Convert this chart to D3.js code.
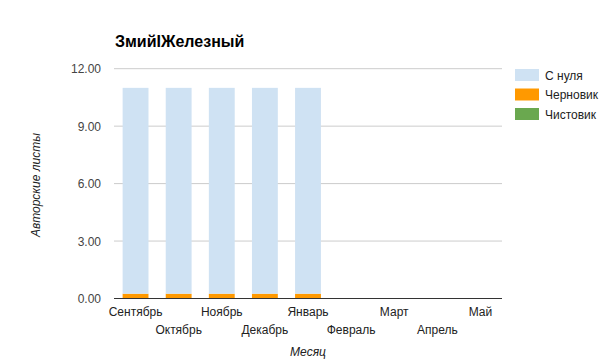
<!DOCTYPE html>
<html><head><meta charset="utf-8">
<script src="https://cdn.jsdelivr.net/npm/d3@7"></script>
<style>
body{margin:0;background:#fff;}
svg{display:block;font-family:Arial,"Liberation Sans",sans-serif;}
</style></head><body>
<svg id="c" width="605" height="362"></svg>
<script>
const title = "ЗмийIЖелезный";
const months = ["Сентябрь","Октябрь","Ноябрь","Декабрь","Январь","Февраль","Март","Апрель","Май"];
const seriesNames = ["С нуля","Черновик","Чистовик"];
const seriesColors = ["#cfe2f3","#ff9900","#6aa84f"];
const fromScratch = [10.75,10.75,10.75,10.75,10.75,0,0,0,0];
const draft = [0.25,0.25,0.25,0.25,0.25,0,0,0,0];
const clean = [0,0,0,0,0,0,0,0,0];
const yTicks = [0,3,6,9,12];
const yLabel = "Авторские листы";
const xLabel = "Месяц";

const svg = d3.select("#c");
const L=114, R=502, T=68.7, B=298.5;
const x = d3.scaleBand().domain(months).range([L,R]).paddingInner(0.4).paddingOuter(0.2);
const y = d3.scaleLinear().domain([0,12]).range([B,T]);

// gridlines
svg.append("g").selectAll("line").data(yTicks.filter(d=>d>0)).join("line")
  .attr("x1",L).attr("x2",R).attr("y1",d=>y(d)).attr("y2",d=>y(d))
  .attr("stroke","#cccccc").attr("stroke-width",1);

// y tick labels
svg.append("g").selectAll("text").data(yTicks).join("text")
  .attr("x",101).attr("y",d=>y(d)+4.5).attr("text-anchor","end")
  .attr("font-size",12).attr("fill","#444").text(d=>d3.format(".2f")(d));

// stacked bars: draft at bottom, then scratch, then clean
const rows = months.map((m,i)=>({m, "Черновик":draft[i], "С нуля":fromScratch[i], "Чистовик":clean[i]}));
const stack = d3.stack().keys(["Черновик","С нуля","Чистовик"])(rows);
const colorOf = {"С нуля":seriesColors[0],"Черновик":seriesColors[1],"Чистовик":seriesColors[2]};
svg.append("g").selectAll("g").data(stack).join("g").attr("fill",s=>colorOf[s.key])
  .selectAll("rect").data(s=>s).join("rect")
  .attr("x",d=>x(d.data.m)).attr("width",x.bandwidth())
  .attr("y",d=>y(d[1])).attr("height",d=>Math.max(0,y(d[0])-y(d[1])));

// baseline
svg.append("line").attr("x1",L).attr("x2",R).attr("y1",B).attr("y2",B)
  .attr("stroke","#333").attr("stroke-width",1);

// x labels alternating
svg.append("g").selectAll("text").data(months).join("text")
  .attr("x",d=>x(d)+x.bandwidth()/2).attr("y",(d,i)=>i%2===0?316:334)
  .attr("text-anchor","middle").attr("font-size",12).attr("fill","#222").text(d=>d);

// title
svg.append("text").attr("x",115).attr("y",47).attr("font-size",16).attr("font-weight","bold")
  .attr("fill","#000").text(title);

// axis titles
svg.append("text").attr("transform","translate(40,185) rotate(-90)").attr("text-anchor","middle")
  .attr("font-size",12).attr("font-style","italic").attr("fill","#222").text(yLabel);
svg.append("text").attr("x",(L+R)/2).attr("y",356).attr("text-anchor","middle")
  .attr("font-size",12).attr("font-style","italic").attr("fill","#222").text(xLabel);

// legend
const lg = svg.append("g").selectAll("g").data(seriesNames).join("g")
  .attr("transform",(d,i)=>`translate(515,${69+i*19.5})`);
lg.append("rect").attr("width",24).attr("height",12).attr("fill",(d,i)=>seriesColors[i]);
lg.append("text").attr("x",30).attr("y",10.5).attr("font-size",12).attr("fill","#222").text(d=>d);
</script></body></html>
